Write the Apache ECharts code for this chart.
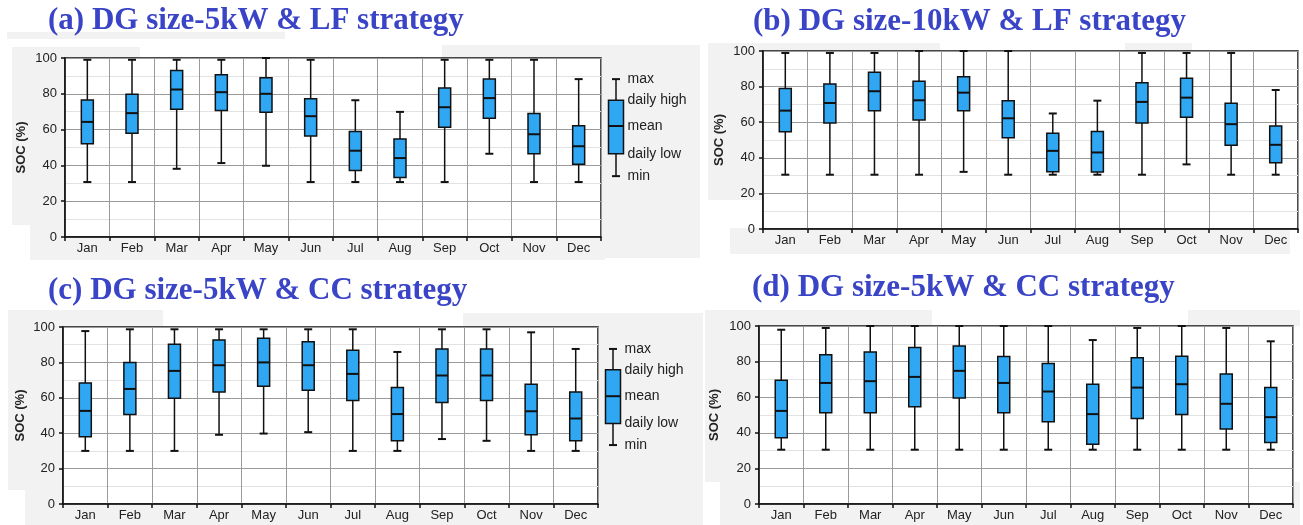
<!DOCTYPE html>
<html>
<head>
<meta charset="utf-8">
<script src="https://cdn.jsdelivr.net/npm/echarts@6/dist/echarts.min.js"></script>
<style>html,body{margin:0;padding:0;background:#fff}#c{width:1303px;height:525px}</style>
</head>
<body>
<div id="c"></div>
<script>
// ---------- DATA ----------
const months = ['Jan','Feb','Mar','Apr','May','Jun','Jul','Aug','Sep','Oct','Nov','Dec'];
const yTicks = [0, 20, 40, 60, 80, 100];
const legendLabels = ['max', 'daily high', 'mean', 'daily low', 'min'];

// (a) DG size-5kW & LF strategy
const aMax  = [99, 99, 99, 99, 100, 99, 76.4, 69.9, 99, 99, 99, 88.2];
const aHigh = [76.6, 79.8, 93, 90.7, 89, 77.2, 59, 54.8, 83.2, 88.2, 69, 62.2];
const aMean = [64.3, 69.2, 82.4, 80.9, 80, 67.5, 48.2, 44.1, 72.5, 77.6, 57.4, 50.7];
const aLow  = [52.1, 57.9, 71.4, 70.7, 69.7, 56.4, 37.2, 33.3, 61.3, 66.4, 46.5, 40.6];
const aMin  = [30.7, 30.7, 38.1, 41.3, 39.8, 30.7, 30.7, 30.7, 30.7, 46.5, 30.7, 30.7];

// (b) DG size-10kW & LF strategy
const bMax  = [98.9, 98.9, 98.9, 100, 100, 100, 64.9, 72.1, 98.9, 98.9, 98.9, 78.1];
const bHigh = [78.9, 81.5, 88, 83, 85.6, 72.1, 53.8, 54.8, 82.2, 84.7, 70.7, 57.9];
const bMean = [66.5, 70.8, 77.4, 72.3, 76.6, 62.2, 43.9, 43, 71.4, 73.8, 58.9, 47.3];
const bLow  = [54.6, 59.6, 66.4, 61.3, 66.4, 51.2, 32.1, 32, 59.6, 62.8, 47.1, 37.2];
const bMin  = [30.5, 30.5, 30.5, 30.5, 32.1, 30.5, 30.5, 30.5, 30.5, 36.3, 30.5, 30.5];

// (c) DG size-5kW & CC strategy
const cMax  = [97.7, 98.7, 98.7, 98.7, 98.7, 98.7, 98.7, 85.9, 98.7, 98.7, 97, 87.6];
const cHigh = [68.4, 80, 90.2, 92.7, 93.6, 91.7, 86.8, 65.8, 87.6, 87.6, 67.7, 63.3];
const cMean = [52.6, 65, 75.2, 78.4, 80, 78.4, 73.5, 50.8, 72.6, 72.6, 52.4, 48.3];
const cLow  = [38, 50.6, 59.8, 63.3, 66.5, 64.3, 58.5, 35.7, 57.3, 58.5, 39.1, 35.7];
const cMin  = [30, 30, 30, 39.1, 39.8, 40.6, 30, 30, 36.7, 35.7, 30, 30];

// (d) DG size-5kW & CC strategy
const dMax  = [97.9, 98.9, 100, 100, 100, 100, 100, 92.1, 98.9, 100, 98.9, 91.4];
const dHigh = [69.5, 83.9, 85.4, 87.9, 88.8, 82.8, 78.9, 67.3, 82.1, 83, 73.1, 65.4];
const dMean = [52.3, 68, 69, 71.4, 74.8, 68, 63.2, 50.5, 65.4, 67.3, 56.3, 48.8];
const dLow  = [37.2, 51.2, 51.2, 54.6, 59.6, 51.2, 46.2, 33.6, 48, 50.3, 42.2, 34.6];
const dMin  = [30.5, 30.5, 30.5, 30.5, 30.5, 30.5, 30.5, 30.5, 30.5, 30.5, 30.5, 30.5];

// legend glyph values: [min, daily low, mean, daily high, max]
const legendA = [34, 46.5, 62, 76.4, 88.2];
const legendC = [33.3, 45.5, 60.9, 75.9, 87.6];

const titles = ['(a) DG size-5kW & LF strategy', '(b) DG size-10kW & LF strategy',
                '(c) DG size-5kW & CC strategy', '(d) DG size-5kW & CC strategy'];

// ---------- LAYOUT ----------
const panels = [
  {grid:{left:65, top:58, width:536, height:179}, nameGap:37, title:{left:48, top:5},
   s:[aMin,aLow,aMean,aHigh,aMax]},
  {grid:{left:763, top:51, width:535, height:178}, nameGap:37, title:{left:753, top:6},
   s:[bMin,bLow,bMean,bHigh,bMax]},
  {grid:{left:63, top:327, width:535, height:177}, nameGap:36, title:{left:48, top:275},
   s:[cMin,cLow,cMean,cHigh,cMax]},
  {grid:{left:759, top:326, width:534, height:178}, nameGap:38, title:{left:752, top:272},
   s:[dMin,dLow,dMean,dHigh,dMax]}
];
const legendGrids = [
  {grid:{left:606, top:58, width:20, height:179}, v:legendA},
  {grid:{left:603, top:327, width:20, height:177}, v:legendC}
];

const BOX_FILL = '#2fa7f3';
const INK = '#111';

function makeRender(bw, cw, withLabels) {
  return function (params, api) {
    const cat = api.value(0);
    const p = [1,2,3,4,5].map(i => api.coord([cat, api.value(i)]));
    const x = p[0][0];
    const yMin = p[0][1], yLow = p[1][1], yMean = p[2][1], yHigh = p[3][1], yMax = p[4][1];
    const ls = {stroke: INK, lineWidth: 1.5};
    const ch = [
      {type:'line', shape:{x1:x, y1:yMax, x2:x, y2:yHigh}, style:ls},
      {type:'line', shape:{x1:x, y1:yLow, x2:x, y2:yMin}, style:ls},
      {type:'line', shape:{x1:x-cw/2, y1:yMax, x2:x+cw/2, y2:yMax}, style:{stroke:INK, lineWidth:2}},
      {type:'line', shape:{x1:x-cw/2, y1:yMin, x2:x+cw/2, y2:yMin}, style:{stroke:INK, lineWidth:2}},
      {type:'rect', shape:{x:x-bw/2, y:yHigh, width:bw, height:yLow-yHigh},
       style:{fill:BOX_FILL, stroke:INK, lineWidth:1.5}},
      {type:'line', shape:{x1:x-bw/2, y1:yMean, x2:x+bw/2, y2:yMean}, style:{stroke:INK, lineWidth:2}}
    ];
    if (withLabels) {
      const ys = [yMax, yHigh, yMean, yLow, yMin];
      legendLabels.forEach((t, i) => {
        ch.push({type:'text', style:{text:t, x:x + bw/2 + 4, y:ys[i], align:'left', verticalAlign:'middle',
          font:'14px "Liberation Sans", Arial, sans-serif', fill:'#222'}});
      });
    }
    return {type:'group', children:ch};
  };
}

const grids = [], xAxes = [], yAxes = [], series = [];
panels.forEach((P, k) => {
  grids.push(Object.assign({show:true, backgroundColor:'#fff', borderColor:INK, borderWidth:1.5}, P.grid));
  xAxes.push({
    type:'category', gridIndex:k, data:months, boundaryGap:true,
    axisLine:{lineStyle:{color:INK, width:1.5}},
    axisTick:{show:true, length:4, lineStyle:{color:INK, width:1.5}},
    axisLabel:{color:'#222', fontSize:13, fontFamily:'"Liberation Sans", Arial, sans-serif', margin:5},
    splitLine:{show:true, lineStyle:{color:'#9a9a9a', width:1}}
  });
  yAxes.push({
    type:'value', gridIndex:k, min:yTicks[0], max:yTicks[yTicks.length-1], interval:20,
    name:'SOC (%)', nameLocation:'middle', nameGap:P.nameGap, nameRotate:90,
    nameTextStyle:{fontWeight:'bold', fontSize:13, color:'#222', fontFamily:'"Liberation Sans", Arial, sans-serif'},
    axisLine:{show:true, lineStyle:{color:INK, width:1.5}},
    axisTick:{show:true, length:4, lineStyle:{color:INK, width:1.5}},
    axisLabel:{color:'#222', fontSize:13, fontFamily:'"Liberation Sans", Arial, sans-serif', margin:8},
    splitLine:{show:true, lineStyle:{color:'#9a9a9a', width:1}},
    minorTick:{show:false, splitNumber:2},
    minorSplitLine:{show:true, lineStyle:{color:'#e2e2e2', width:1}}
  });
  const data = months.map((m, i) => [i, P.s[0][i], P.s[1][i], P.s[2][i], P.s[3][i], P.s[4][i]]);
  series.push({type:'custom', xAxisIndex:k, yAxisIndex:k, renderItem:makeRender(12, 8, false),
    encode:{x:0, y:[1,2,3,4,5]}, data:data, z:5, clip:false});
});
legendGrids.forEach((L, j) => {
  const k = panels.length + j;
  grids.push(L.grid);
  xAxes.push({type:'category', gridIndex:k, data:['legend'], show:false});
  yAxes.push({type:'value', gridIndex:k, min:0, max:100, show:false});
  series.push({type:'custom', xAxisIndex:k, yAxisIndex:k, renderItem:makeRender(15, 8, true),
    encode:{x:0, y:[1,2,3,4,5]}, data:[[0].concat(L.v)], z:5, clip:false});
});

// background gray patches of the reference composite
const patches = [
  [12,47,128,178],[30,225,575,35],[442,45,258,213],[7,32,278,7],
  [708,43,232,157],[730,228,560,26],[1125,43,67,8],
  [8,310,155,180],[25,490,600,35],[463,313,240,212],
  [705,310,227,172],[720,482,580,43],[1188,310,112,16]
];
const graphic = patches.map(r => ({type:'rect', z:-100, silent:true,
  shape:{x:r[0], y:r[1], width:r[2], height:r[3]}, style:{fill:'#f2f2f2'}}));
panels.forEach((P, k) => {
  graphic.push({type:'text', left:P.title.left, top:P.title.top, z:10,
    style:{text:titles[k], font:'bold 31px "Liberation Serif", "Times New Roman", serif', fill:'#3a44c6'}});
});

const chart = echarts.init(document.getElementById('c'), null, {renderer:'canvas'});
chart.setOption({
  animation:false,
  backgroundColor:'#fff',
  grid:grids, xAxis:xAxes, yAxis:yAxes, series:series, graphic:graphic
});
</script>
</body>
</html>
